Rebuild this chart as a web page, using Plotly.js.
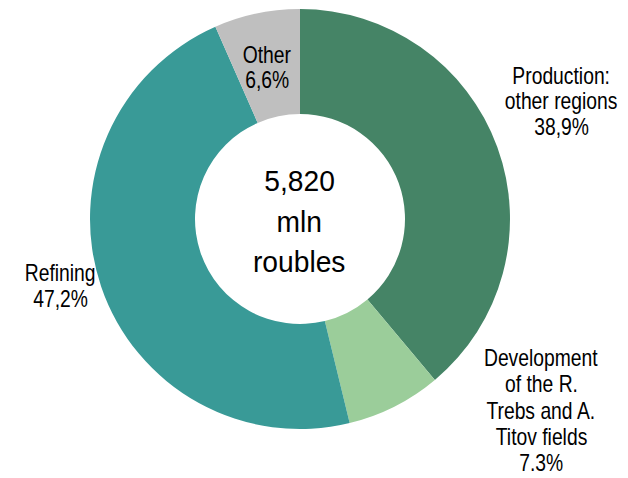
<!DOCTYPE html>
<html>
<head>
<meta charset="utf-8">
<script src="https://cdn.plot.ly/plotly-3.0.1.min.js"></script>
<style>
html,body{margin:0;padding:0;background:#fff;}
#chart{width:628px;height:478px;}
</style>
</head>
<body>
<div id="chart"></div>
<script>
// Data
var categories = ["Production: other regions", "Development of the R. Trebs and A. Titov fields", "Refining", "Other"];
var shares = [38.9, 7.3, 47.2, 6.6];
var shareLabels = ["38,9%", "7.3%", "47,2%", "6,6%"];
var labelLines = [
  ["Production:", "other regions"],
  ["Development", "of the R.", "Trebs and A.", "Titov fields"],
  ["Refining"],
  ["Other"]
];
var colors = ["#458466", "#9bcd9a", "#399a97", "#bfbfbf"];
var centerLines = ["5,820", "mln", "roubles"];

// Layout-only label placement (x center, first-line center y, line step) in pixels
var labelPos = [
  {x: 561, y: 76, step: 25.5},
  {x: 541, y: 358, step: 26.3},
  {x: 60, y: 273, step: 26},
  {x: 267, y: 55, step: 25}
];
var W = 628, H = 478;
var labelFont = {family: "Liberation Sans, Arial, sans-serif", size: 23, color: "#000"};
var centerFont = {family: "Liberation Sans, Arial, sans-serif", size: 30, color: "#000"};

var annotations = [];
categories.forEach(function(c, i) {
  var lines = labelLines[i].concat([shareLabels[i]]);
  lines.forEach(function(t, j) {
    annotations.push({
      text: t, showarrow: false, xref: "paper", yref: "paper",
      x: labelPos[i].x / W, y: 1 - (labelPos[i].y + j * labelPos[i].step) / H,
      xanchor: "center", yanchor: "middle", font: labelFont, borderpad: 0
    });
  });
});
var centerY = [181, 222, 261];
centerLines.forEach(function(t, j) {
  annotations.push({
    text: t, showarrow: false, xref: "paper", yref: "paper",
    x: 299 / W, y: 1 - centerY[j] / H, xanchor: "center", yanchor: "middle", font: centerFont
  });
});

var trace = {
  type: "pie",
  labels: categories,
  values: shares,
  marker: {colors: colors, line: {width: 0}},
  hole: 0.5,
  sort: false,
  direction: "clockwise",
  rotation: 0,
  textinfo: "none",
  hoverinfo: "label+percent",
  domain: {x: [90 / W, 510 / W], y: [1 - 429 / H, 1 - 9 / H]}
};

var layout = {
  width: W, height: H,
  margin: {l: 0, r: 0, t: 0, b: 0},
  showlegend: false,
  paper_bgcolor: "#ffffff",
  annotations: annotations
};

Plotly.newPlot("chart", [trace], layout, {displayModeBar: false, staticPlot: true}).then(function(gd) {
  // Emulate the narrow typeface of the original labels by condensing glyphs horizontally
  var texts = gd.querySelectorAll(".annotation-text");
  texts.forEach(function(el) {
    var size = parseFloat(el.style.fontSize || "0");
    var f = size >= 28 ? 0.94 : 0.84;
    var bb = el.getBBox();
    var cx = bb.x + bb.width / 2;
    el.setAttribute("transform", "translate(" + cx + ",0) scale(" + f + ",1) translate(" + (-cx) + ",0)");
  });
});
</script>
</body>
</html>
